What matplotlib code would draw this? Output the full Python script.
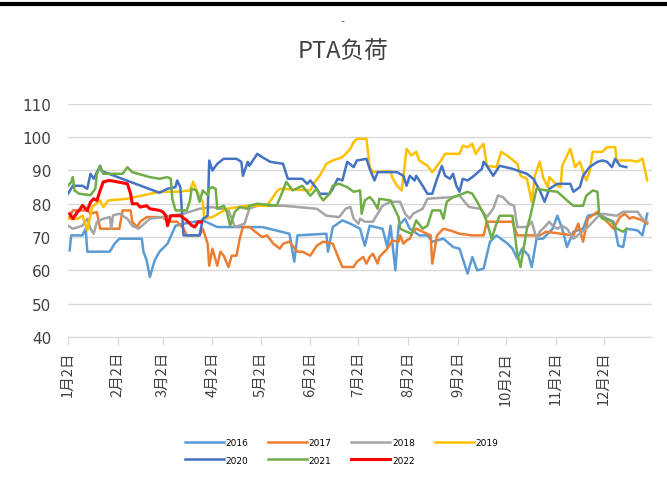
"""PTA load seasonal chart (2016-2022)."""

import matplotlib
matplotlib.use("Agg")
import matplotlib.pyplot as plt
from matplotlib import font_manager
from matplotlib.lines import Line2D

# ---- data: days since Jan 2, load (%) ----
d2016 = [1, 2, 9, 11, 12, 26, 29, 32, 46, 47, 49, 51, 54, 57, 62, 67, 72, 84, 93, 105,
         121, 138, 141, 143, 161, 162, 165, 171, 176, 182, 185, 188, 196, 199, 201, 204, 206, 210, 213, 219,
         224, 227, 234, 240, 244, 249, 252, 255, 259, 263, 267, 274, 277, 280, 283, 287, 289, 292, 296, 302,
         305, 308, 311, 315, 321, 324, 330, 336, 340, 343, 346, 348, 355, 358, 361]
v2016 = [66, 70.5, 70.5, 72.5, 65.6, 65.6, 68, 69.5, 69.5, 65.6, 63, 58, 63, 65.6, 68, 73.4, 74, 75, 73, 73,
         73, 71, 62.6, 70.5, 71, 65.6, 73, 75, 74, 72.5, 67.4, 73.4, 72.5, 67, 73.4, 60, 73.4, 75.5, 72.5, 70.5,
         70.5, 68.6, 69.5, 67, 66.5, 59, 64, 60, 60.5, 68.6, 70.5, 68, 66.5, 63.5, 66.5, 64.5, 61, 69.5, 69.5, 72.5,
         76.4, 72.5, 67, 71.6, 72.5, 76.4, 77, 75.5, 74.6, 67.4, 67, 72.5, 72, 70.5, 77]

d2017 = [1, 3, 12, 14, 18, 20, 32, 34, 39, 40, 43, 45, 49, 59, 62, 68, 72, 74, 82, 84,
         87, 88, 90, 93, 95, 97, 100, 102, 105, 107, 109, 113, 117, 121, 124, 128, 132, 134, 138, 143,
         146, 151, 155, 159, 165, 168, 171, 178, 180, 184, 186, 188, 190, 193, 194, 199, 201, 202, 206, 207,
         209, 211, 213, 215, 217, 221, 226, 227, 230, 234, 238, 244, 252, 259, 261, 277, 280, 294, 298, 315,
         318, 321, 324, 330, 333, 336, 340, 344, 347, 350, 352, 358, 361]
v2017 = [76, 78, 78, 77, 77.5, 72.5, 72.5, 78, 78, 74.6, 73, 74.6, 76, 76, 74.6, 74.6, 72.5, 70.5, 70.5, 72.5,
         68, 61.4, 66.5, 61.4, 65.6, 64.4, 61, 64.4, 64.4, 69.5, 73, 73, 71.5, 70, 70.5, 68, 66.5, 68, 68.6, 65.6,
         65.6, 64.4, 67.4, 68.6, 68, 64.4, 61, 61, 62.6, 64, 62, 64, 65, 62, 64, 66.5, 68, 69, 68.6, 70.5,
         68, 69, 69.5, 71.6, 72.5, 71.6, 70.5, 62, 70.5, 72.5, 72, 71, 70.5, 70.5, 74.6, 74.6, 70.5, 70.5, 71.6, 70.5,
         74, 68.6, 75.5, 77.6, 76, 74.6, 72.5, 76, 77, 75.5, 76, 75, 74]

d2018 = [0, 3, 9, 12, 14, 16, 18, 22, 26, 27, 28, 32, 37, 40, 44, 51, 59, 72, 82, 90,
         100, 104, 110, 113, 118, 134, 155, 161, 169, 173, 176, 178, 181, 182, 185, 190, 193, 196, 201, 207,
         210, 213, 215, 221, 224, 240, 244, 250, 257, 261, 265, 268, 271, 275, 278, 280, 286, 289, 292, 294,
         297, 300, 302, 305, 308, 311, 315, 319, 323, 330, 333, 342, 346, 355, 358, 361]
v2018 = [73.4, 72.5, 73.4, 75.5, 72.5, 71, 74.6, 75.5, 76, 72.5, 76.5, 77, 75.5, 73.4, 72.5, 75.5, 76, 77, 78.5, 79,
         78, 73, 74, 78.5, 79.4, 79.4, 78.5, 76.4, 76, 78.5, 79, 75.5, 74, 75.5, 74.6, 74.6, 77, 79.4, 80.6, 80.6,
         77, 75.5, 77, 78.5, 81.5, 82, 82.4, 79, 78.5, 76, 78.5, 82.5, 82, 80, 79.4, 73, 73, 74.6, 69.5, 71.6,
         73, 74.6, 73.4, 72.5, 73.4, 72.5, 69.5, 71, 72.5, 76, 77, 76.4, 77.6, 77.6, 75.5, 74.6]

d2019 = [0, 6, 9, 12, 15, 20, 22, 25, 37, 57, 68, 76, 78, 80, 84, 85, 90, 99, 112, 124,
         130, 132, 151, 153, 157, 161, 165, 171, 176, 178, 180, 186, 188, 190, 201, 202, 205, 208, 211, 214,
         217, 219, 224, 227, 232, 235, 244, 246, 249, 252, 254, 257, 259, 261, 267, 270, 275, 280, 282, 286,
         289, 291, 294, 296, 299, 300, 305, 307, 308, 313, 316, 319, 323, 325, 327, 333, 336, 341, 342, 351,
         355, 358, 361]
v2019 = [75.5, 75.5, 76.4, 72, 79, 81, 79, 81, 81.5, 83.6, 83.6, 84, 86.6, 84, 80.5, 75.5, 76, 78.5, 79.4, 79.4,
         83.6, 84.5, 84, 86, 88.5, 92, 93, 94, 96.5, 98.5, 99.5, 99.5, 91, 89.5, 89.8, 88, 85.4, 84, 96.5, 94.5,
         95.6, 93, 91.4, 89.5, 92.6, 95, 95, 97.4, 97, 98, 95, 97, 98, 91.4, 91, 95.6, 94, 92, 88.4, 87.5,
         80.6, 88.5, 92.6, 88, 85, 88, 85.4, 85, 91.4, 96.5, 91, 92.6, 87, 89.5, 95.6, 95.6, 97, 97, 93, 93,
         92.6, 93.6, 87]

d2020 = [0, 3, 9, 12, 14, 16, 18, 20, 21, 57, 62, 67, 68, 70, 72, 82, 84, 87, 88, 90,
         93, 97, 105, 108, 109, 112, 113, 118, 121, 126, 134, 137, 146, 149, 151, 155, 157, 163, 165, 168,
         171, 174, 178, 180, 186, 188, 191, 193, 205, 209, 211, 213, 216, 217, 221, 224, 227, 230, 233, 235,
         238, 240, 242, 244, 246, 249, 252, 258, 259, 261, 265, 269, 277, 286, 290, 294, 297, 300, 305, 313,
         315, 319, 321, 325, 330, 333, 336, 339, 341, 344, 348]
v2020 = [83, 85.4, 85.4, 84.5, 89, 87.5, 89.5, 91.4, 89.8, 83.3, 84.5, 85, 87, 85, 70.5, 70.5, 75.5, 76.4, 93, 90,
         92, 93.5, 93.5, 92.6, 88.4, 92.6, 91.4, 95, 94, 92.6, 92, 87.5, 87.5, 86, 87, 84.5, 83, 83, 84.5, 87.5,
         87, 92.6, 91, 93, 93.5, 90.5, 87, 89.5, 89.5, 88.4, 85.4, 88.4, 87, 88.4, 85.4, 83, 83, 87.5, 91.4, 88.4,
         87.5, 89, 85.4, 83.6, 87.5, 87, 88, 90.5, 92.6, 91.4, 88.4, 91.4, 90.5, 89, 87.5, 84, 80.6, 84.5, 86, 86,
         83.6, 85, 88.4, 91, 92.6, 93, 92.6, 91, 93.5, 91.4, 91]

d2021 = [0, 2, 3, 4, 7, 14, 17, 18, 20, 22, 34, 37, 40, 51, 57, 62, 64, 65, 67, 74,
         76, 77, 80, 82, 84, 87, 88, 90, 92, 93, 97, 99, 101, 104, 107, 112, 113, 118, 130, 134,
         136, 140, 146, 151, 155, 157, 159, 163, 165, 169, 174, 178, 182, 183, 185, 188, 190, 193, 194, 201,
         202, 206, 207, 211, 214, 217, 221, 224, 227, 232, 234, 236, 240, 246, 249, 252, 255, 259, 261, 264,
         267, 269, 277, 280, 282, 283, 286, 288, 292, 298, 305, 311, 315, 321, 323, 327, 330, 331, 333, 338,
         342, 346, 348]
v2021 = [85.4, 86.5, 88, 84, 83, 82.6, 84.5, 89, 91.4, 89, 89, 91, 89.5, 88, 87.5, 88, 87.5, 81.5, 78, 78,
         81, 84.5, 84, 80.6, 84, 82.6, 84.5, 85, 84.5, 78.5, 79.4, 77.6, 73.4, 77.6, 79, 78.5, 79.4, 80, 79.4, 84,
         86.6, 84, 85.4, 82.4, 84.5, 82.4, 81, 83, 85.4, 86, 85, 83.6, 84, 77, 81, 82, 81, 78.5, 81.5, 81,
         80, 76, 72.5, 71.6, 71, 75, 72.5, 73.4, 78, 78, 75.5, 80.6, 82, 83, 83.6, 83, 80.6, 77, 74.6, 69.5,
         74, 76.4, 76.4, 65, 61, 64, 72.5, 76, 84.5, 84, 83.6, 81, 79.4, 79.4, 82.4, 84, 83.6, 77, 75.5, 75,
         72.5, 71.6, 72.5]

d2022 = [1, 3, 6, 7, 9, 12, 14, 16, 18, 20, 22, 26, 37, 39, 40, 43, 45, 49, 51, 57,
         59, 61, 62, 64, 70, 74, 77, 79, 81, 83]
v2022 = [77, 75.5, 77.6, 78, 79.5, 78, 80.5, 81.5, 81, 84, 86.6, 87, 86, 83, 80, 80, 79, 79.4, 78.5, 78,
         77.6, 76.4, 73.4, 76.4, 76.4, 75, 73.5, 73, 74.5, 74.5]

years = ["2016", "2017", "2018", "2019", "2020", "2021", "2022"]
series = [(d2016, v2016), (d2017, v2017), (d2018, v2018), (d2019, v2019),
          (d2020, v2020), (d2021, v2021), (d2022, v2022)]
colors = ["#5B9BD5", "#ED7D31", "#A5A5A5", "#FFC000", "#4472C4", "#70AD47", "#FF0000"]

tick_days = [0, 31, 59, 90, 120, 151, 181, 212, 243, 273, 304, 334]
tick_labels = [f"{m}月2日" for m in range(1, 13)]
y_ticks = [40, 50, 60, 70, 80, 90, 100, 110]

names = {f.name for f in font_manager.fontManager.ttflist}
num_font = "Liberation Sans Narrow" if "Liberation Sans Narrow" in names else "DejaVu Sans"
cjk = ["Noto Sans CJK SC", "DejaVu Sans"]

fig = plt.figure(figsize=(6.67, 4.89), dpi=100)
ax = fig.add_axes([0.102, 0.309, 0.8756, 0.4765])

handles = []
for (d, v), yr, c in zip(series, years, colors):
    lw = 2.2 if yr == "2022" else 1.8
    h, = ax.plot(d, v, color=c, lw=lw, label=yr, solid_joinstyle="round")
    handles.append(h)

ax.set_xlim(0, 364)
ax.set_ylim(40, 110)
ax.set_yticks(y_ticks)
ax.set_yticklabels([str(t) for t in y_ticks], family=num_font, fontsize=11, color="#404040")
ax.set_xticks(tick_days)
ax.set_xticklabels(tick_labels, rotation=90, family=cjk, fontsize=10.5, color="#404040")
ax.tick_params(axis="y", length=0, pad=12)
ax.tick_params(axis="x", length=6, width=1, color="#D9D9D9", pad=4)
ax.grid(axis="y", color="#D9D9D9", lw=1)
ax.set_axisbelow(True)
for s in ("top", "right", "left"):
    ax.spines[s].set_visible(False)
ax.spines["bottom"].set_color("#D9D9D9")

# legend: row-major order 2016..2019 / 2020..2022
order = [0, 4, 1, 5, 2, 6, 3]
fig.legend([handles[i] for i in order], [years[i] for i in order],
           loc="upper center", bbox_to_anchor=(0.512, 0.118), ncol=4, frameon=False,
           handlelength=4.3, handletextpad=0.2, columnspacing=2.2,
           labelspacing=0.9, prop={"family": num_font, "size": 6.5})

fig.text(0.514, 1 - 51 / 489, "PTA负荷", ha="center", va="center",
         family=cjk, fontsize=17, color="#404040")
fig.text(0.514, 1 - 21 / 489, "-", ha="center", va="center", fontsize=8, color="#404040")
fig.add_artist(Line2D([0, 1], [1 - 5 / 489, 1 - 5 / 489], transform=fig.transFigure,
                      color="black", lw=3))

fig.savefig("out.png", dpi=100)
